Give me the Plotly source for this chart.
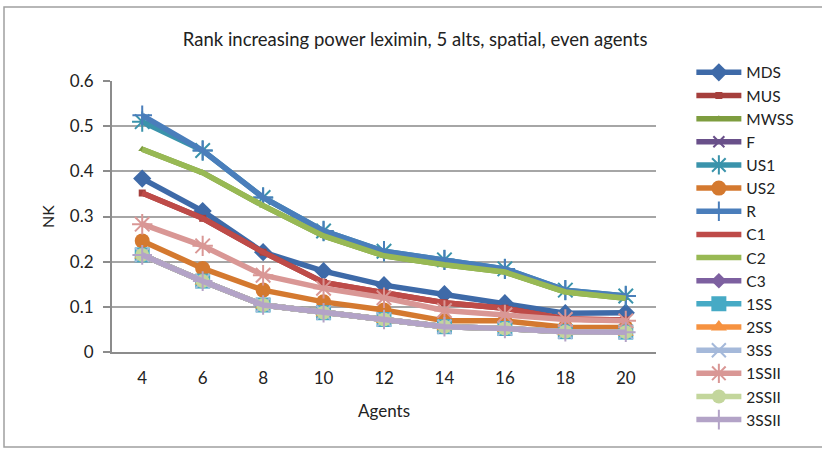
import plotly.graph_objects as go

agents = ["4", "6", "8", "10", "12", "14", "16", "18", "20"]

MDS   = [0.384, 0.312, 0.221, 0.179, 0.148, 0.128, 0.108, 0.086, 0.087]
MUS   = [0.352, 0.296, 0.221, 0.154, 0.131, 0.109, 0.097, 0.073, 0.071]
MWSS  = [0.449, 0.397, 0.324, 0.257, 0.213, 0.193, 0.177, 0.133, 0.119]
F     = [0.215, 0.157, 0.104, 0.087, 0.072, 0.056, 0.052, 0.045, 0.044]
US1   = [0.510, 0.446, 0.342, 0.268, 0.223, 0.204, 0.184, 0.137, 0.124]
US2   = [0.246, 0.185, 0.137, 0.111, 0.093, 0.069, 0.069, 0.055, 0.054]
R     = [0.524, 0.446, 0.342, 0.268, 0.223, 0.204, 0.184, 0.137, 0.124]
C1    = [0.352, 0.296, 0.221, 0.154, 0.131, 0.109, 0.097, 0.073, 0.071]
C2    = [0.449, 0.397, 0.324, 0.257, 0.213, 0.193, 0.177, 0.133, 0.119]
C3    = [0.215, 0.157, 0.104, 0.087, 0.072, 0.056, 0.052, 0.045, 0.044]
SS1   = [0.215, 0.157, 0.104, 0.087, 0.072, 0.056, 0.052, 0.045, 0.044]
SS2   = [0.215, 0.157, 0.104, 0.087, 0.072, 0.056, 0.052, 0.045, 0.044]
SS3   = [0.215, 0.157, 0.104, 0.087, 0.072, 0.056, 0.052, 0.045, 0.044]
SSII1 = [0.283, 0.235, 0.170, 0.141, 0.120, 0.092, 0.082, 0.072, 0.069]
SSII2 = [0.215, 0.157, 0.104, 0.087, 0.072, 0.056, 0.052, 0.045, 0.044]
SSII3 = [0.215, 0.157, 0.104, 0.087, 0.072, 0.056, 0.052, 0.045, 0.044]

y_ticks = [0, 0.1, 0.2, 0.3, 0.4, 0.5, 0.6]
y_tick_labels = ["0", "0.1", "0.2", "0.3", "0.4", "0.5", "0.6"]

series = [
    ("MDS", MDS, "#3E6AA8", "diamond", 14),
    ("MUS", MUS, "#A53F3C", "square", 7),
    ("MWSS", MWSS, "#7E9D3F", "triangle-up", 7),
    ("F", F, "#69508A", "x-thin", 11),
    ("US1", US1, "#3A93AB", "asterisk", 17),
    ("US2", US2, "#D4792F", "circle", 15),
    ("R", R, "#4A7EBB", "cross-thin", 14),
    ("C1", C1, "#BE4B48", None, 0),
    ("C2", C2, "#98B954", None, 0),
    ("C3", C3, "#7D60A0", "diamond", 12),
    ("1SS", SS1, "#46AAC5", "square", 15),
    ("2SS", SS2, "#F69240", "triangle-up", 14),
    ("3SS", SS3, "#A5B9DA", "x-thin", 14),
    ("1SSII", SSII1, "#D99795", "asterisk", 17),
    ("2SSII", SSII2, "#C3D69C", "circle", 14),
    ("3SSII", SSII3, "#B3A3C7", "cross-thin", 14),
]

fig = go.Figure()
for name, vals, color, sym, size in series:
    if sym is None:
        fig.add_trace(go.Scatter(x=agents, y=vals, name=name, mode="lines",
                                 line=dict(color=color, width=5.5)))
    else:
        thin = sym in ("x-thin", "asterisk", "cross-thin")
        fig.add_trace(go.Scatter(
            x=agents, y=vals, name=name, mode="lines+markers",
            line=dict(color=color, width=5.5),
            marker=dict(symbol=sym, size=size, color=color,
                        line=dict(color=color, width=2 if thin else 0))))

fig.update_layout(
    width=822, height=449,
    margin=dict(l=112, r=166, t=81, b=97),
    paper_bgcolor="white", plot_bgcolor="white",
    font=dict(family="Lato, Carlito, sans-serif", size=16, color="#222222"),
    title=dict(text="Rank increasing power leximin, 5 alts, spatial, even agents",
               x=0.505, xanchor="center", y=1 - 40 / 449, yanchor="middle",
               font=dict(size=18.5, color="#222222")),
    showlegend=True,
    legend=dict(x=1.065, y=1.093, xanchor="left", yanchor="top",
                font=dict(size=15.5, color="#222222"), bgcolor="rgba(0,0,0,0)",
                itemwidth=45, tracegroupgap=0, maxheight=440),
    xaxis=dict(type="category", range=[-0.5, 8.5], showgrid=False,
               showline=True, linecolor="#8C8C8C", linewidth=2,
               ticks="", tickfont=dict(size=17), ticklabelstandoff=10,
               title=dict(text="Agents", font=dict(size=17), standoff=18)),
    yaxis=dict(range=[0, 0.6], tickvals=y_ticks, ticktext=y_tick_labels,
               showgrid=True, gridcolor="#A6A6A6", gridwidth=2,
               showline=True, linecolor="#8C8C8C", linewidth=2,
               ticks="outside", ticklen=7, tickcolor="#8C8C8C", tickwidth=2,
               tickfont=dict(size=17), zeroline=False, ticklabelstandoff=6,
               title=dict(text="NK", font=dict(size=16), standoff=11)),
    shapes=[dict(type="rect", xref="paper", yref="paper",
                 x0=(4 - 112) / 544, x1=(830 - 112) / 544,
                 y0=(352 - 447) / 271, y1=(352 - 7) / 271,
                 line=dict(color="#A0A0A0", width=1.5), layer="below")],
)

fig.write_html("out.html", config={"displayModeBar": False},
               post_script="document.body.style.margin='0';document.body.style.overflow='hidden';")
